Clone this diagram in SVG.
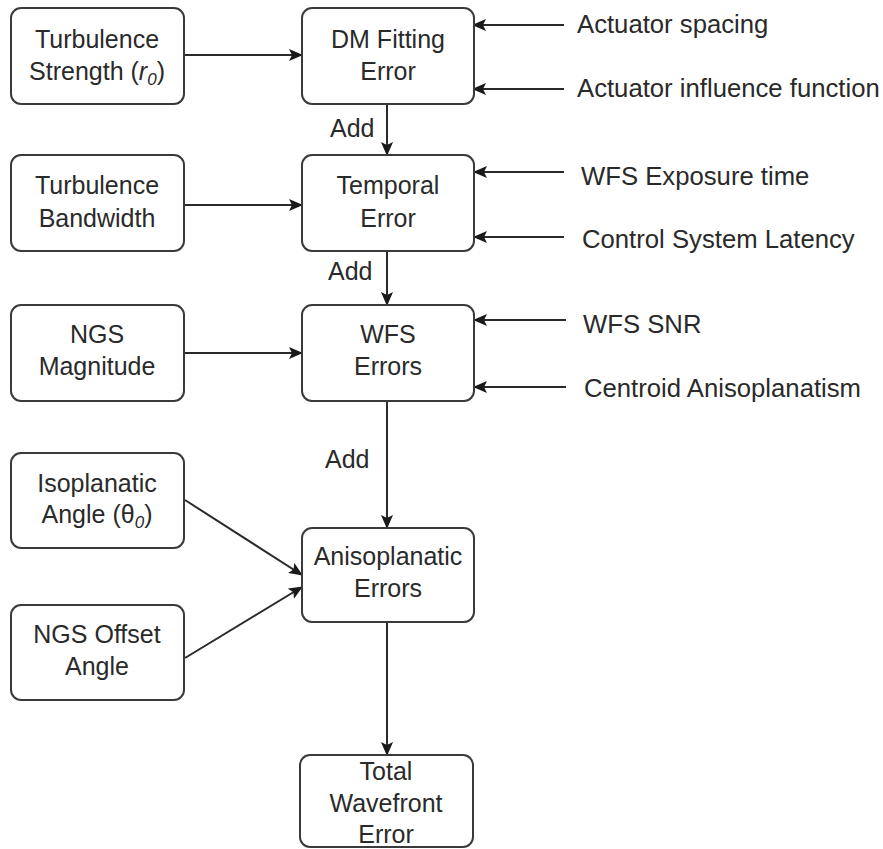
<svg xmlns="http://www.w3.org/2000/svg" width="883" height="849" viewBox="0 0 883 849">
<style>
.box{fill:#fff;stroke:#3a3a3a;stroke-width:2}
.t{font-family:"Liberation Sans",Arial,sans-serif;font-size:25px;fill:#2a2a2a}
.r{font-size:25.7px}
.c{text-anchor:middle}
.ln{stroke:#2a2a2a;stroke-width:2;fill:none}
</style>
<defs>
<marker id="ah" viewBox="0 0 14 12" refX="13" refY="6" markerWidth="14" markerHeight="12" markerUnits="userSpaceOnUse" orient="auto">
<path d="M0,0 L14,6 L0,12 L3,6 Z" fill="#1a1a1a"/>
</marker>
</defs>
<rect width="883" height="849" fill="#fff"/>
<g id="connectors">
<line class="ln" x1="184" y1="55" x2="302" y2="55" marker-end="url(#ah)"/>
<line class="ln" x1="184" y1="205" x2="302" y2="205" marker-end="url(#ah)"/>
<line class="ln" x1="184" y1="353" x2="302" y2="353" marker-end="url(#ah)"/>
<line class="ln" x1="185" y1="500" x2="302" y2="575" marker-end="url(#ah)"/>
<line class="ln" x1="185" y1="658" x2="302" y2="587" marker-end="url(#ah)"/>
<line class="ln" x1="387" y1="104" x2="387" y2="155" marker-end="url(#ah)"/>
<line class="ln" x1="387" y1="251" x2="387" y2="305" marker-end="url(#ah)"/>
<line class="ln" x1="387" y1="401" x2="387" y2="528" marker-end="url(#ah)"/>
<line class="ln" x1="387" y1="622" x2="387" y2="755" marker-end="url(#ah)"/>
<line class="ln" x1="564" y1="25" x2="473" y2="25" marker-end="url(#ah)"/>
<line class="ln" x1="564" y1="89" x2="473" y2="89" marker-end="url(#ah)"/>
<line class="ln" x1="564" y1="172" x2="474" y2="172" marker-end="url(#ah)"/>
<line class="ln" x1="564" y1="237" x2="474" y2="237" marker-end="url(#ah)"/>
<line class="ln" x1="566" y1="320" x2="474" y2="320" marker-end="url(#ah)"/>
<line class="ln" x1="566" y1="387" x2="474" y2="387" marker-end="url(#ah)"/>
<text class="t" x="330" y="137">Add</text>
<text class="t" x="328" y="280">Add</text>
<text class="t" x="325" y="468">Add</text>
</g>
<g id="turb-strength">
<rect class="box" x="11" y="8" width="173" height="96" rx="10"/>
<text class="t c" x="97" y="48">Turbulence</text>
<text class="t c" x="97" y="80">Strength (<tspan font-style="italic">r</tspan><tspan font-style="italic" font-size="17" dy="5">0</tspan><tspan dy="-5">)</tspan></text>
</g>
<g id="dm-fitting">
<rect class="box" x="302" y="8" width="172" height="96" rx="10"/>
<text class="t c" x="388" y="48">DM Fitting</text>
<text class="t c" x="388" y="80">Error</text>
</g>
<g id="turb-bandwidth">
<rect class="box" x="11" y="155" width="173" height="96" rx="10"/>
<text class="t c" x="97" y="194">Turbulence</text>
<text class="t c" x="97" y="227">Bandwidth</text>
</g>
<g id="temporal">
<rect class="box" x="302" y="155" width="172" height="96" rx="10"/>
<text class="t c" x="388" y="194">Temporal</text>
<text class="t c" x="388" y="227">Error</text>
</g>
<g id="ngs-mag">
<rect class="box" x="11" y="305" width="173" height="96" rx="10"/>
<text class="t c" x="97" y="343">NGS</text>
<text class="t c" x="97" y="375">Magnitude</text>
</g>
<g id="wfs-errors">
<rect class="box" x="302" y="305" width="172" height="96" rx="10"/>
<text class="t c" x="388" y="343">WFS</text>
<text class="t c" x="388" y="375">Errors</text>
</g>
<g id="isoplanatic">
<rect class="box" x="11" y="453" width="173" height="95" rx="10"/>
<text class="t c" x="97" y="492">Isoplanatic</text>
<text class="t c" x="97" y="523">Angle (θ<tspan font-style="italic" font-size="17" dy="5">0</tspan><tspan dy="-5">)</tspan></text>
</g>
<g id="ngs-offset">
<rect class="box" x="11" y="605" width="173" height="95" rx="10"/>
<text class="t c" x="97" y="643">NGS Offset</text>
<text class="t c" x="97" y="675">Angle</text>
</g>
<g id="anisoplanatic">
<rect class="box" x="302" y="528" width="172" height="94" rx="10"/>
<text class="t c" x="388" y="565">Anisoplanatic</text>
<text class="t c" x="388" y="597">Errors</text>
</g>
<g id="total">
<rect class="box" x="300" y="755" width="173" height="92" rx="10"/>
<text class="t c" x="386" y="780">Total</text>
<text class="t c" x="386" y="812">Wavefront</text>
<text class="t c" x="386" y="843">Error</text>
</g>
<g id="act-spacing"><text class="t r" x="577" y="33">Actuator spacing</text></g>
<g id="act-influence"><text class="t r" x="577" y="97">Actuator influence function</text></g>
<g id="wfs-exposure"><text class="t r" x="581" y="185">WFS Exposure time</text></g>
<g id="latency"><text class="t r" x="582" y="248">Control System Latency</text></g>
<g id="wfs-snr"><text class="t r" x="583" y="333">WFS SNR</text></g>
<g id="centroid"><text class="t r" x="584" y="397">Centroid Anisoplanatism</text></g>
</svg>
